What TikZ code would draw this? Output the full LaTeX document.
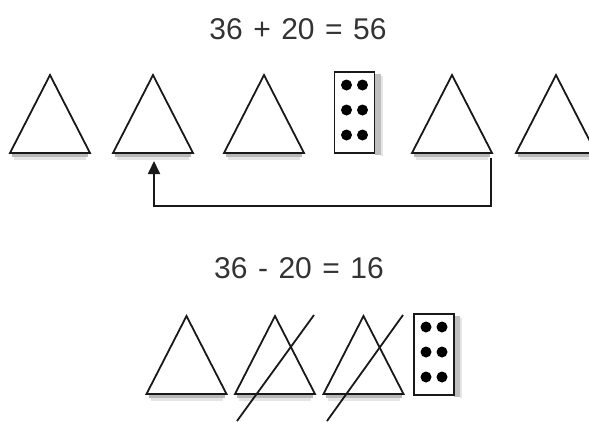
\documentclass[tikz,border=0pt]{standalone}
\usepackage{fontspec}
\setmainfont{Liberation Sans}
\usetikzlibrary{arrows.meta}
\newcommand{\gp}{\hspace{10.5pt}}
\tikzset{
  stroke/.style={line width=1.8pt, black!90, line join=miter},
  shade1/.style={line width=2.5pt, black!28},
  shade2/.style={line width=2.5pt, black!10},
  eqtext/.style={font=\fontsize{30}{32}\selectfont, inner sep=0pt, text=black!80},
  dot/.style={circle, fill=black, inner sep=0pt, minimum size=11pt},
  tri/.pic={
    \draw[shade2] (-36,5.5) -- (36,5.5);
    \draw[shade1] (-38,2.5) -- (38,2.5);
    \draw[stroke, fill=white] (-40,0) coordinate (-bl) -- (0,-78) coordinate (-top) -- (40,0) coordinate (-br) -- cycle;
  },
  card/.pic={
    \fill[black!25] (20,-79) rectangle (26,2);
    \fill[black!10] (26,-77) rectangle (28,3);
    \draw[stroke, fill=white] (-20,-81) rectangle (20,0);
    \foreach \yy in {-68,-43,-18} {
      \node[dot] at (-8,\yy) {};
      \node[dot] at (8,\yy) {};
    }
  }
}
\begin{document}
\begin{tikzpicture}[x=1pt,y=-1pt]
\useasboundingbox (0,0) rectangle (589,421);
\clip (0,0) rectangle (589,421);
% top equation
\node[eqtext] (eq1) at (298,29) {36\gp+\gp20\gp=\gp56};
% top row
\pic (t1) at (50,153) {tri};
\pic (t2) at (153,153) {tri};
\pic (t3) at (264,153) {tri};
\pic (c1) at (354.5,153) {card};
\pic (t4) at (452,153) {tri};
\pic (t5) at (556,153) {tri};
% arrow
\coordinate (as) at (491,158);
\coordinate (ae) at (154,161);
\draw[line width=1.8pt, black!90, -{Triangle[width=12pt,length=13pt]}] (as) -- (491,206) -| (ae);
% bottom equation
\node[eqtext] (eq2) at (299,268) {36\gp-\gp20\gp=\gp16};
% bottom row
\pic (b1) at (186.5,394) {tri};
\pic (b2) at (275,394) {tri};
\pic (b3) at (363.5,394) {tri};
\pic (c2) at (434,395) {card};
% crossing-out strokes
\coordinate (x1a) at (314,315);
\coordinate (x1b) at (237,421);
\coordinate (x2a) at (403,315);
\coordinate (x2b) at (327,421);
\draw[stroke] (x1a) -- (x1b);
\draw[stroke] (x2a) -- (x2b);
\end{tikzpicture}
\end{document}
